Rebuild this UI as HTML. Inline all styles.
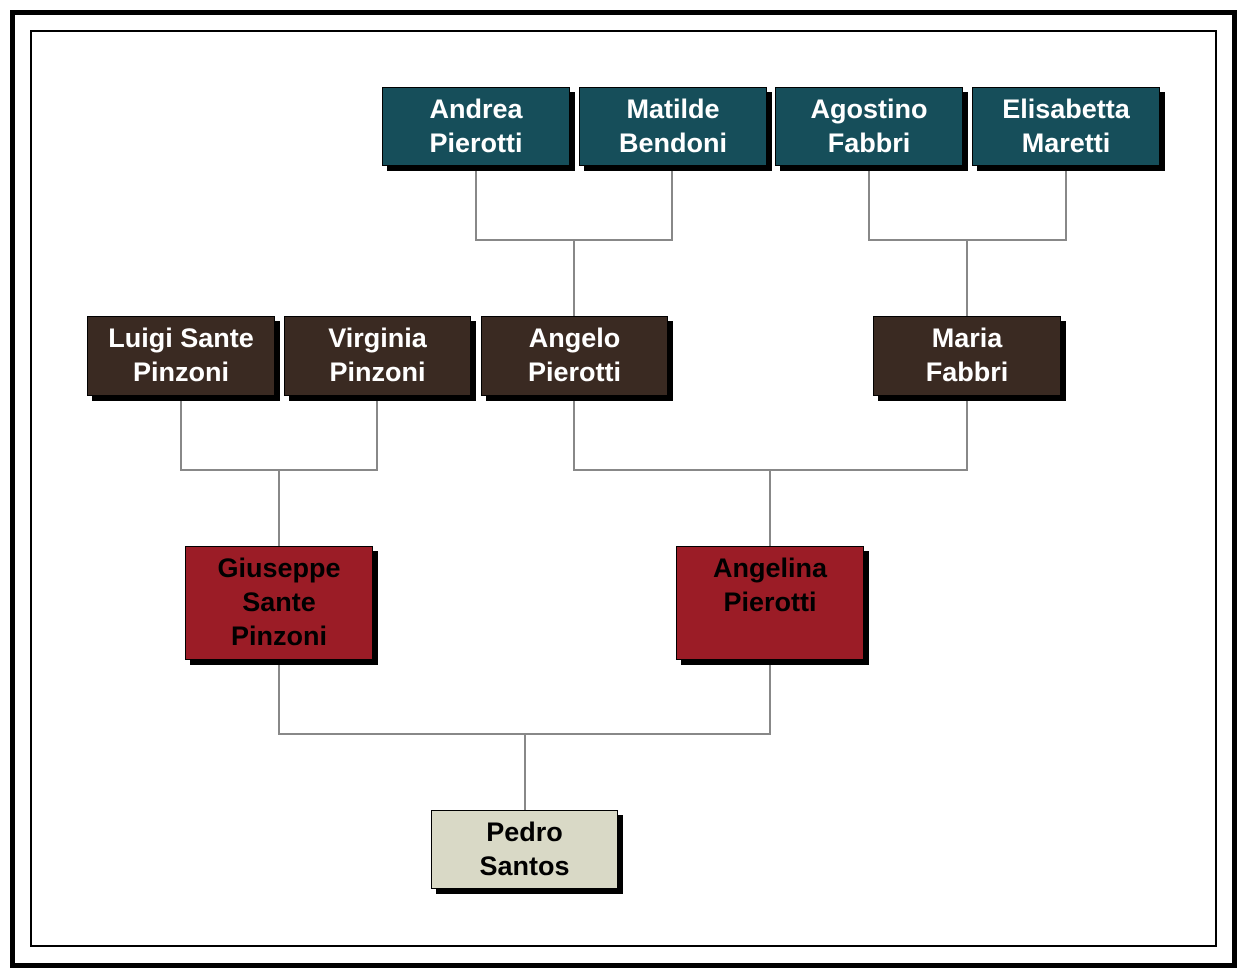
<!DOCTYPE html>
<html><head><style>
body{margin:0;width:1247px;height:978px;background:#fff;position:relative;overflow:hidden;font-family:"Liberation Sans",sans-serif}
.o{position:absolute;left:10px;top:10px;width:1217px;height:948px;border:5px solid #000}
.i{position:absolute;left:30px;top:30px;width:1183px;height:913px;border:2px solid #000}
.b{position:absolute;box-sizing:border-box;border:1px solid #000;box-shadow:5px 5px 0 #000;text-align:center;font-weight:bold;font-size:27px;line-height:34px;padding-top:4px;color:#fff}
.t{background:#164e5a}.d{background:#3a2a22}.r{background:#9b1c26;color:#000}.p{background:#d9d9c6;color:#000}
</style></head><body>
<div class="o"></div><div class="i"></div>
<svg style="position:absolute;left:0;top:0" width="1247" height="978"><g stroke="#888" stroke-width="2" fill="none">
<path d="M476 166V240H672V166M574 240V316"/>
<path d="M869 166V240H1066V166M967 240V316"/>
<path d="M181 396V470H377V396M279 470V546"/>
<path d="M574 396V470H967V396M770 470V546"/>
<path d="M279 660V734H770V660M525 734V810"/>
</g></svg>
<div class="b t" style="left:382px;top:87px;width:188px;height:79px">Andrea<br>Pierotti</div>
<div class="b t" style="left:579px;top:87px;width:188px;height:79px">Matilde<br>Bendoni</div>
<div class="b t" style="left:775px;top:87px;width:188px;height:79px">Agostino<br>Fabbri</div>
<div class="b t" style="left:972px;top:87px;width:188px;height:79px">Elisabetta<br>Maretti</div>
<div class="b d" style="left:87px;top:316px;width:188px;height:80px">Luigi Sante<br>Pinzoni</div>
<div class="b d" style="left:284px;top:316px;width:187px;height:80px">Virginia<br>Pinzoni</div>
<div class="b d" style="left:481px;top:316px;width:187px;height:80px">Angelo<br>Pierotti</div>
<div class="b d" style="left:873px;top:316px;width:188px;height:80px">Maria<br>Fabbri</div>
<div class="b r" style="left:185px;top:546px;width:188px;height:114px">Giuseppe<br>Sante<br>Pinzoni</div>
<div class="b r" style="left:676px;top:546px;width:188px;height:114px">Angelina<br>Pierotti</div>
<div class="b p" style="left:431px;top:810px;width:187px;height:79px">Pedro<br>Santos</div>
</body></html>
